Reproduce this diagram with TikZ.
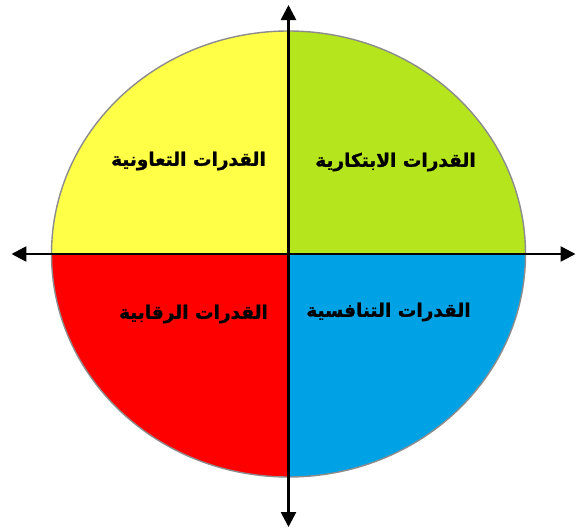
\documentclass[tikz,border=0pt]{standalone}
\usepackage{fontspec}
\usepackage{tikz}
\usetikzlibrary{arrows.meta}
\TeXXeTstate=1
\newfontfamily\arabicfont[Script=Arabic,BoldFeatures={FakeBold=1.2}]{DejaVu Sans}
\definecolor{cYel} {HTML}{FFFF47}
\definecolor{cGrn} {HTML}{B5E51D}
\definecolor{cRed} {HTML}{FF0000}
\definecolor{cBlu} {HTML}{00A2E6}
\definecolor{cRim} {HTML}{8C8C8C}
\tikzset{
  quad/.style  ={draw=none},
  rim/.style   ={draw=cRim,line width=1.4pt},
  axis/.style  ={{Triangle[length=15pt,width=15pt]}-{Triangle[length=15pt,width=15pt]},
                 draw=black,line width=2.6pt},
  lbl/.style   ={font=\arabicfont\bfseries\fontsize{18.5}{22}\selectfont,inner sep=2pt},
}

\begin{document}
\begin{tikzpicture}[x=1pt, y=1pt]
\useasboundingbox (-288.5,-277) rectangle (287.5,254);

% --- four quarters of the disc -------------------------------------------
\fill[quad,cGrn] (0,0) -- (237,0) arc[start angle=0,end angle=90,x radius=237,y radius=223] -- cycle;
\fill[quad,cYel] (0,0) -- (0,223) arc[start angle=90,end angle=180,x radius=237,y radius=223] -- cycle;
\fill[quad,cRed] (0,0) -- (-237,0) arc[start angle=180,end angle=270,x radius=237,y radius=223] -- cycle;
\fill[quad,cBlu] (0,0) -- (0,-223) arc[start angle=270,end angle=360,x radius=237,y radius=223] -- cycle;
\draw[rim] (0,0) ellipse[x radius=237,y radius=223];

% --- axes ----------------------------------------------------------------
\coordinate (west)  at (-277,0);
\coordinate (east)  at (287,0);
\coordinate (north) at (0,249);
\coordinate (south) at (0,-273);
\draw[axis] (west) -- (east);
\draw[axis] (south) -- (north);

% --- quarter labels ------------------------------------------------------
\node[lbl] (coop) at (-100,93)  {\beginR القدرات التعاونية\endR};
\node[lbl] (inno) at (107,92)   {\beginR القدرات الابتكارية\endR};
\node[lbl] (ctrl) at (-95,-60)  {\beginR القدرات الرقابية\endR};
\node[lbl] (comp) at (100,-58)  {\beginR القدرات التنافسية\endR};

\end{tikzpicture}
\end{document}
